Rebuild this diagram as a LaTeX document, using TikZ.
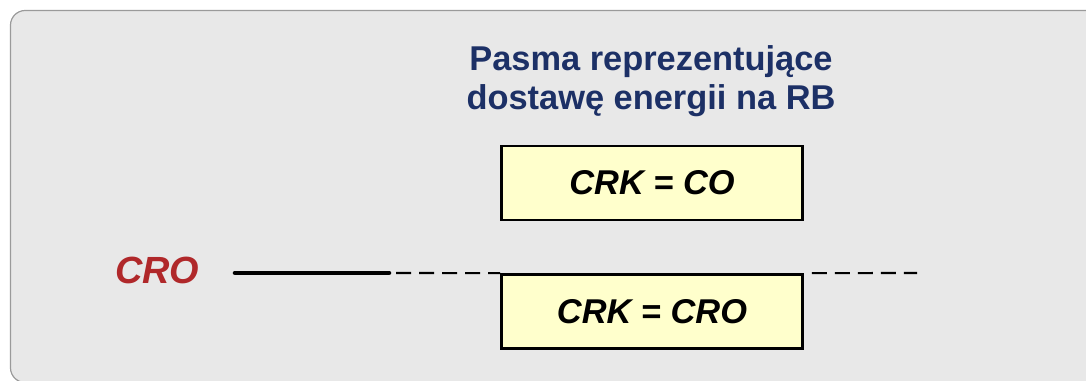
\documentclass[tikz,border=0pt]{standalone}
\usepackage{fontspec}
\setmainfont{Liberation Sans}
\definecolor{panelfill}{HTML}{E8E8E8}
\definecolor{panelline}{HTML}{9A9A9A}
\definecolor{bandfill}{HTML}{FFFFCC}
\definecolor{titleblue}{HTML}{1C3066}
\definecolor{crored}{HTML}{B0282A}
\begin{document}
\begin{tikzpicture}[x=0.75pt,y=-0.75pt,
  panel/.style={draw=panelline, fill=panelfill, line width=0.9pt, rounded corners=11pt},
  band/.style={draw=black, fill=bandfill, line width=2pt, minimum width=225.75pt,
    minimum height=55.5pt, inner sep=0pt,
    font=\fontsize{25.8}{30}\selectfont\bfseries\itshape},
  titletext/.style={text=titleblue, inner sep=0pt, font=\fontsize{25.8}{30}\selectfont\bfseries},
  crolabel/.style={text=crored, inner sep=0pt, font=\fontsize{28.4}{32}\selectfont\bfseries\itshape},
  levelline/.style={draw=black, line width=3.4pt, line cap=round},
  dashline/.style={draw=black, line width=1.6pt, dash pattern=on 11.25pt off 6pt}
]
\useasboundingbox (0,0) rectangle (1086,381);
\begin{scope}
  \clip (0,0) rectangle (1086,381);
  \path[panel] (10.5,10.5) rectangle (1110,382.5);
\end{scope}

\node[titletext, anchor=base] (t1) at (651,71) {Pasma reprezentujące};
\node[titletext, anchor=base] (t2) at (651,110) {dostawę energii na RB};

\node[band] (co) at (652,183) {CRK = CO};
\node[band] (cro) at (652,311.5) {CRK = CRO};

\node[crolabel, anchor=base west] (crol) at (115,283) {CRO};

\coordinate (ls) at (235,273);
\coordinate (le) at (389,273);
\coordinate (ds) at (396,273);
\coordinate (re) at (917,273);

\draw[levelline] (ls) -- (le);
\draw[dashline] (ds) -- (cro.north west);
\draw[dashline, dash phase=11.25pt] (cro.north east) -- (re);
\end{tikzpicture}
\end{document}
